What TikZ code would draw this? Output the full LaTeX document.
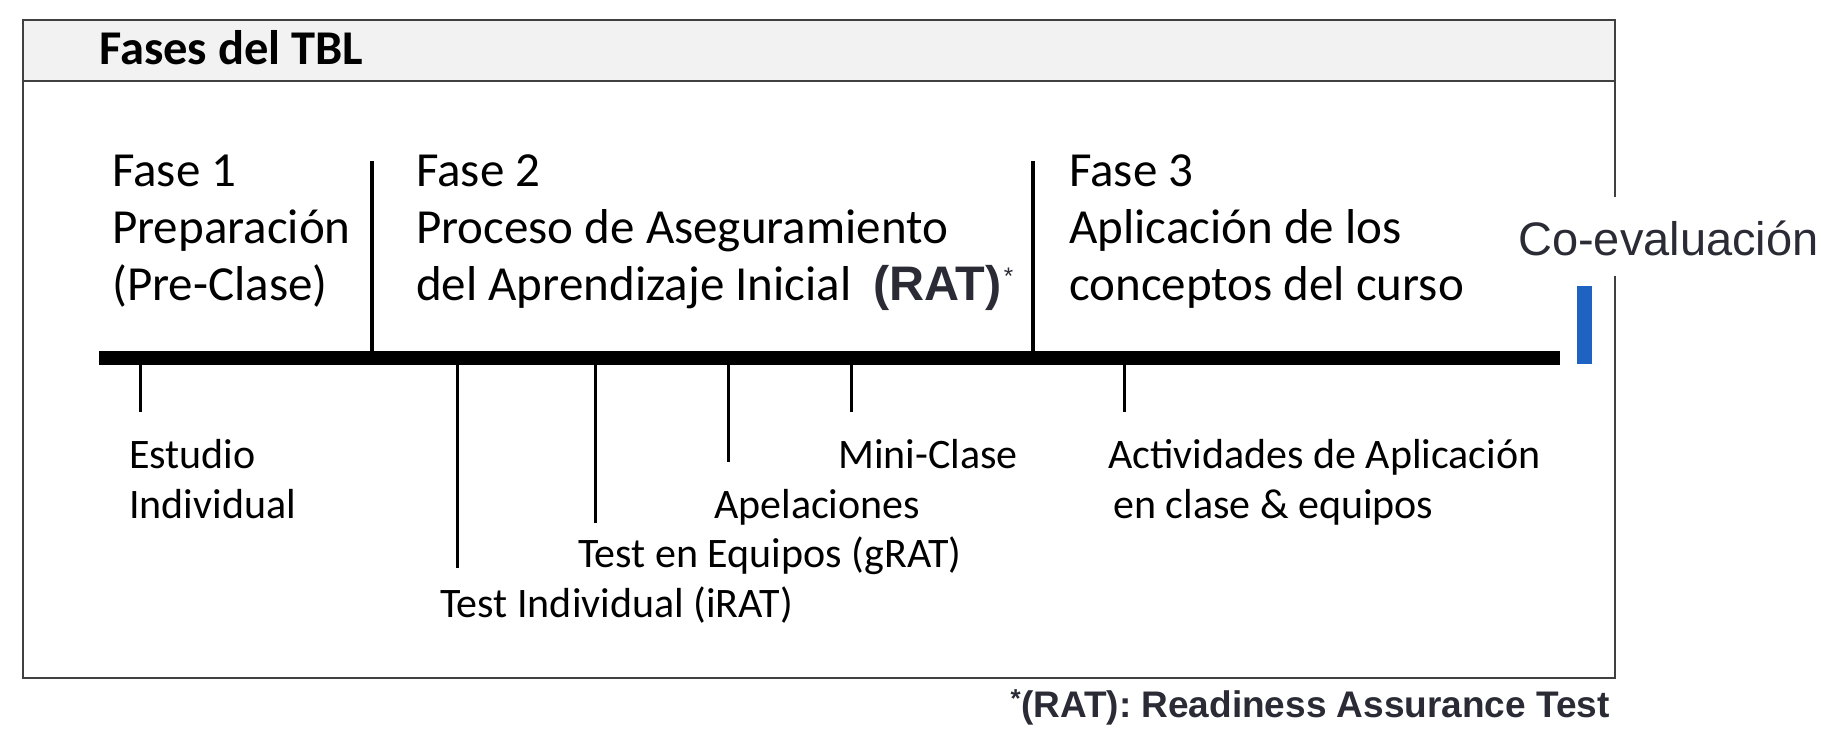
\documentclass[tikz,border=0pt]{standalone}
\usepackage{fontspec}
\setmainfont{Carlito}
\newfontfamily\arialf{Liberation Sans}
\definecolor{txtgray}{RGB}{43,43,54}
\definecolor{boxgray}{RGB}{64,64,64}
\definecolor{hdrfill}{RGB}{242,242,242}
\definecolor{barblue}{RGB}{30,99,193}
\begin{document}
\begin{tikzpicture}[x=1pt,y=-1pt,
  lbl/.style={anchor=base west, inner sep=0pt, font=\fontsize{49}{59}\selectfont},
  sublbl/.style={anchor=base west, inner sep=0pt, font=\fontsize{42}{50}\selectfont},
  sepline/.style={line width=4pt},
  tickline/.style={line width=3pt},
  grayarial/.style={anchor=base west, inner sep=0pt, text=txtgray},
]
\useasboundingbox (0,0) rectangle (1821,735);
\fill[white] (0,0) rectangle (1821,735);
% frame
\draw[boxgray, line width=2pt, fill=white] (23,20) rectangle (1615,678);
\draw[boxgray, line width=2pt, fill=hdrfill] (23,20) rectangle (1615,81);
\node[lbl, font=\fontsize{48.5}{58}\selectfont\bfseries] (title) at (99,65) {Fases del TBL};

% phase texts
\node[lbl] (f1a) at (112,187) {Fase 1};
\node[lbl] (f1b) at (112,244) {Preparación};
\node[lbl] (f1c) at (112,301) {(Pre-Clase)};

\node[lbl] (f2a) at (416,187) {Fase 2};
\node[lbl] (f2b) at (416,244) {Proceso de Aseguramiento};
\node[lbl] (f2c) at (416,301) {del Aprendizaje Inicial};
\node[grayarial, font=\arialf\bfseries\fontsize{48.5}{58}\selectfont] (rat) at (873,301) {(RAT)};
\node[grayarial, font=\arialf\fontsize{24}{28}\selectfont, xshift=2pt, yshift=16pt] (ast) at (rat.base east) {*};

\node[lbl] (f3a) at (1069,187) {Fase 3};
\node[lbl] (f3b) at (1069,244) {Aplicación de los};
\node[lbl] (f3c) at (1069,301) {conceptos del curso};

% timeline bar
\coordinate (barL) at (99,358);
\coordinate (barR) at (1560,358);
\draw[line width=14pt] (barL) -- (barR);

% separators
\coordinate (s1t) at (372,161); \coordinate (s1b) at (372,351);
\coordinate (s2t) at (1033,161); \coordinate (s2b) at (1033,351);
\draw[sepline] (s1t) -- (s1b);
\draw[sepline] (s2t) -- (s2b);

% ticks
\coordinate (t1a) at (140,365); \coordinate (t1b) at (140,412);
\coordinate (t2a) at (457,365); \coordinate (t2b) at (457,568);
\coordinate (t3a) at (595,365); \coordinate (t3b) at (595,523);
\coordinate (t4a) at (728,365); \coordinate (t4b) at (728,462);
\coordinate (t5a) at (851,365); \coordinate (t5b) at (851,412);
\coordinate (t6a) at (1124,365); \coordinate (t6b) at (1124,412);
\foreach \t in {1,...,6} \draw[tickline] (t\t a) -- (t\t b);

% bottom labels
\node[sublbl] (est1) at (129,468) {Estudio};
\node[sublbl] (est2) at (129,518) {Individual};
\node[sublbl] (mini) at (838,468) {Mini-Clase};
\node[sublbl] (apel) at (714,518) {Apelaciones};
\node[sublbl] (grat) at (578,567) {Test en Equipos (gRAT)};
\node[sublbl] (irat) at (440,617) {Test Individual (iRAT)};
\node[sublbl] (act1) at (1108,468) {Actividades de Aplicación};
\node[sublbl] (act2) at (1113,518) {en clase \& equipos};

% blue marker
\fill[barblue] (1577,286) rectangle (1592,364);

% Co-evaluacion label with white patch
\fill[white] (1505,197) rectangle (1821,276);
\node[grayarial, font=\arialf\fontsize{47}{56}\selectfont] (coeval) at (1518,256) {Co-evaluación};

% footnote
\node[anchor=base east, inner sep=0pt, text=txtgray, font=\arialf\bfseries\fontsize{37}{44}\selectfont] (foot) at (1610,717) {\textsuperscript{*}(RAT): Readiness Assurance Test};
\end{tikzpicture}
\end{document}
